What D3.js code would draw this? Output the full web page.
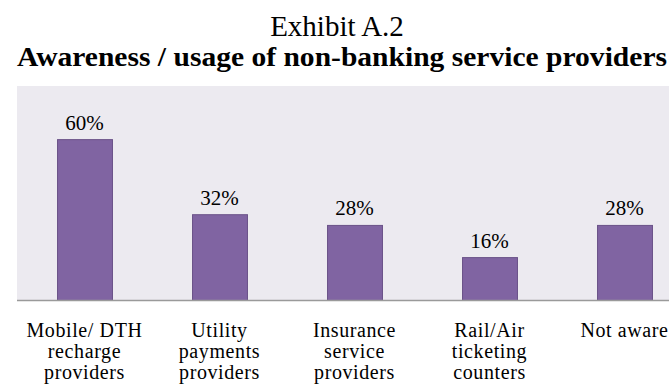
<!DOCTYPE html>
<html>
<head>
<meta charset="utf-8">
<script src="https://cdn.jsdelivr.net/npm/d3@7"></script>
<style>
  body { margin: 0; background: #fff; }
  text { font-family: "Liberation Serif", "Times New Roman", serif; fill: #000; }
</style>
</head>
<body>
<svg class="chart" width="669" height="389"></svg>
<script>
const CATEGORIES = [
  ["Mobile/ DTH", "recharge", "providers"],
  ["Utility", "payments", "providers"],
  ["Insurance", "service", "providers"],
  ["Rail/Air", "ticketing", "counters"],
  ["Not aware"],
];
const VALUES = [60, 32, 28, 16, 28];
const KEYS = CATEGORIES.map((c) => c.join(" "));

const svg = d3.select("svg.chart");

// plot area runs past the right edge, like the source
const xScale = d3.scaleBand().domain(KEYS).range([17, 692]).paddingInner(0.593).paddingOuter(0.2965);
const yScale = d3.scaleLinear().domain([0, 80]).range([300.5, 86]);

svg.append("rect")
  .attr("x", 17).attr("y", 86)
  .attr("width", 669 - 17).attr("height", 300.5 - 86)
  .attr("fill", "#ECEAF0");

svg.selectAll(".bar")
  .data(VALUES)
  .enter()
  .append("rect")
  .classed("bar", true)
  .attr("x", (d, i) => xScale(KEYS[i]) + 0.5)
  .attr("y", (d) => yScale(d))
  .attr("width", xScale.bandwidth())
  .attr("height", (d) => yScale(0) - yScale(d))
  .attr("fill", "#8064A2")
  .attr("stroke", "#6A5288")
  .attr("stroke-width", 1);

svg.selectAll(".val")
  .data(VALUES)
  .enter()
  .append("text")
  .classed("val", true)
  .attr("x", (d, i) => xScale(KEYS[i]) + xScale.bandwidth() / 2)
  .attr("y", (d) => yScale(d) - 10)
  .attr("text-anchor", "middle")
  .style("font-size", "21px")
  .text((d) => d + "%");

svg.append("line")
  .attr("x1", 17).attr("x2", 669)
  .attr("y1", 300.5).attr("y2", 300.5)
  .attr("stroke", "#9A9A9A").attr("stroke-width", 1.5);

const labels = svg.selectAll(".cat")
  .data(CATEGORIES)
  .enter()
  .append("text")
  .classed("cat", true)
  .attr("text-anchor", "middle")
  .style("font-size", "20px")
  .style("letter-spacing", "0.6px");
labels.selectAll("tspan")
  .data((d, i) => d.map((line) => ({ line, x: xScale(KEYS[i]) + xScale.bandwidth() / 2 })))
  .enter()
  .append("tspan")
  .attr("x", (d) => d.x)
  .attr("y", (d, j) => 337 + j * 21)
  .text((d) => d.line);

svg.append("text")
  .attr("x", 337).attr("y", 36)
  .attr("text-anchor", "middle")
  .style("font-size", "29px")
  .text("Exhibit A.2");

svg.append("text")
  .attr("x", 342).attr("y", 66)
  .attr("text-anchor", "middle")
  .attr("textLength", 650)
  .attr("lengthAdjust", "spacingAndGlyphs")
  .style("font-size", "28px")
  .style("font-weight", "bold")
  .text("Awareness / usage of non-banking service providers");
</script>
</body>
</html>
